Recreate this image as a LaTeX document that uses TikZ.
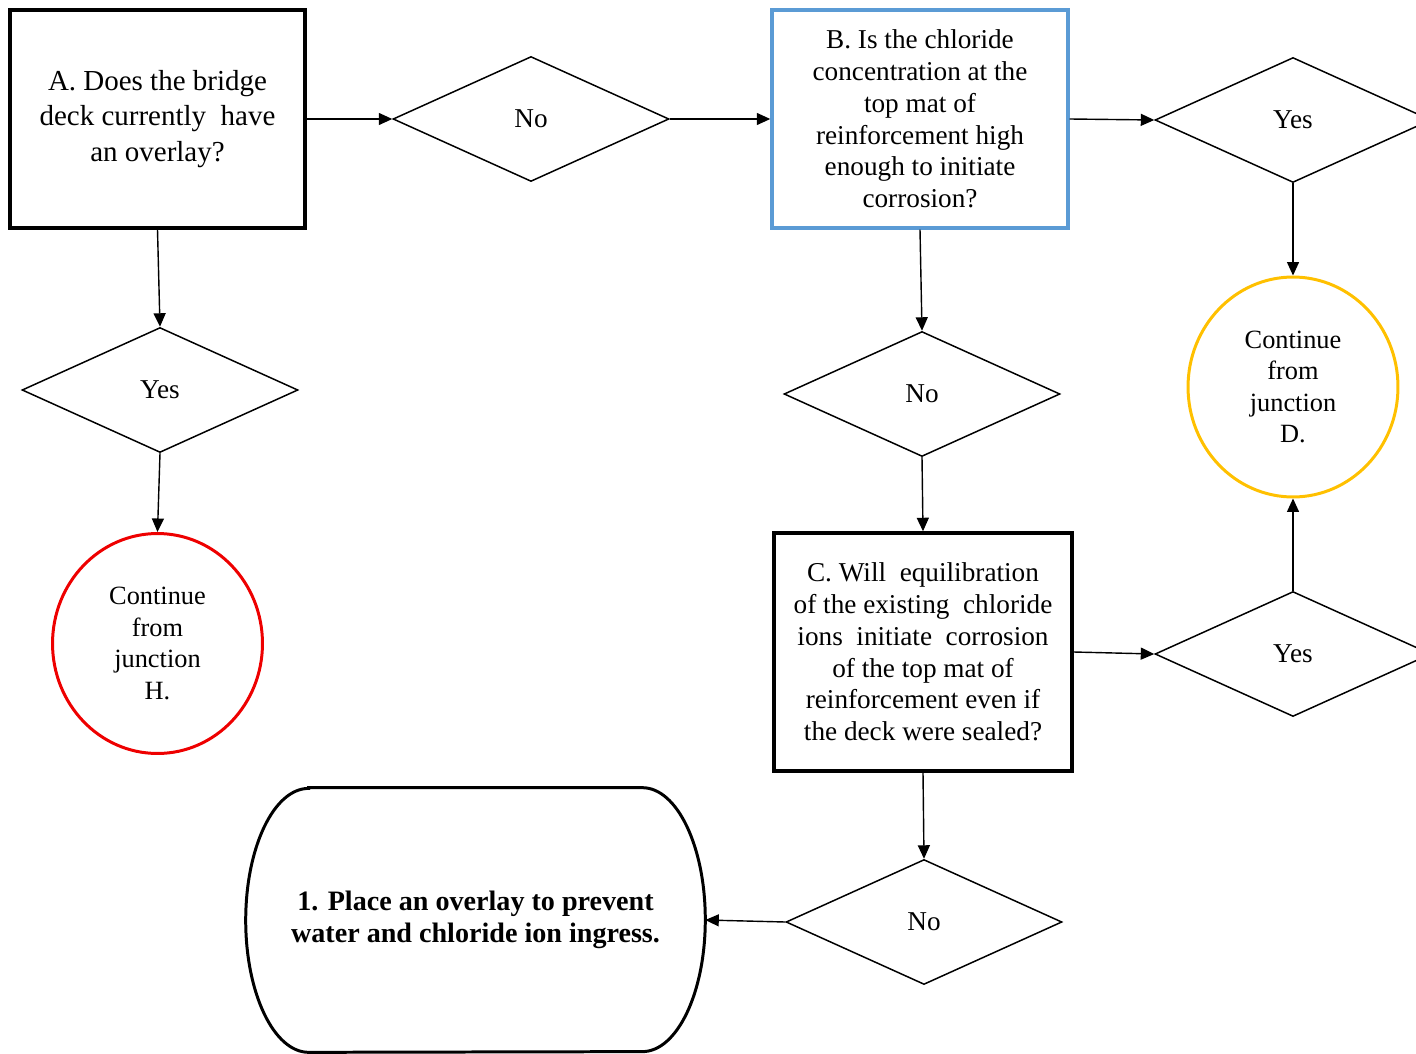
\documentclass[tikz,border=0pt]{standalone}
\usepackage{fontspec}
\setmainfont{Liberation Serif}
\usetikzlibrary{shapes.geometric,arrows.meta,calc}
\definecolor{questionblue}{RGB}{91,155,213}
\definecolor{junctiongold}{RGB}{255,192,0}
\definecolor{junctionred}{RGB}{238,0,0}
\tikzset{
  question/.style={
    draw,
    line width=2pt,
    align=center,
    inner sep=0,
    minimum width=5.9cm,
    minimum height=4.36cm,
    font=\fontsize{15.5}{18.1pt}\selectfont
  },
  decision/.style={
    shape=diamond,
    draw,
    line width=0.85pt,
    inner sep=0,
    minimum width=5.52cm,
    minimum height=2.5cm,
    font=\fontsize{15.5}{18pt}\selectfont
  },
  junction/.style={
    shape=ellipse,
    draw,
    line width=1.7pt,
    inner sep=0,
    align=center,
    minimum width=4.2cm,
    minimum height=4.4cm,
    font=\fontsize{15}{18pt}\selectfont
  },
  action/.style={
    align=center,
    inner sep=0,
    minimum width=9.18cm,
    minimum height=5.28cm,
    font=\bfseries\fontsize{16}{18.2pt}\selectfont
  },
  flow/.style={
    line width=0.8pt,
    -{Triangle[length=0.27cm,width=0.24cm]}
  }
}
\begin{document}
\begin{tikzpicture}[x=0.02cm,y=-0.02cm]
    \useasboundingbox (0,0) rectangle (1416,1054);
    \node[question,font=\fontsize{16.5}{20.3pt}\selectfont] (qa) at (157.5,119) {A. Does the bridge\\deck currently\ \ have\\an overlay?};
    \node[question,draw=questionblue,minimum width=5.92cm] (qb) at (920,119) {B. Is the chloride\\concentration at the\\top mat of\\reinforcement high\\enough to initiate\\corrosion?};
    \node[question,minimum width=5.96cm,minimum height=4.76cm] (qc) at (923,652) {C. Will\ \ equilibration\\of the existing\ \ chloride\\ions\ \ initiate\ \ corrosion\\of the top mat of\\reinforcement even if\\the deck were sealed?};
    \node[decision] (noa) at (531,119) {No};
    \node[decision] (nob) at (922,394) {No};
    \node[decision] (noc) at (924,922) {No};
    \node[decision] (yesa) at (160,390) {Yes};
    \node[decision] (yesb) at (1293,120) {Yes};
    \node[decision] (yesc) at (1293,654) {Yes};
    \node[junction,draw=junctionred] (jh) at (157.5,643.5) {Continue\\from\\junction\\H.};
    \node[junction,draw=junctiongold] (jd) at (1293,387) {Continue\\from\\junction\\D.};
    \node[action] (overlay) at (475.5,920) {1. Place an overlay to prevent\\water and chloride ion ingress.};
    \draw[line width=1.7pt] ($(overlay.north west)+(63,0)$) -- ($(overlay.north east)+(-63,0)$)
        arc[start angle=90,end angle=-90,x radius=1.26cm,y radius=2.64cm]
        -- ($(overlay.south west)+(63,0)$)
        arc[start angle=270,end angle=90,x radius=1.26cm,y radius=2.64cm] -- cycle;
    \draw[flow] (qa.east) -- (noa.west);
    \draw[flow] (noa.east) -- (qb.west);
    \draw[flow] (qb.east) -- (yesb.west);
    \draw[flow] (yesb.south) -- (jd.north);
    \draw[flow] (qa.south) -- (yesa.north);
    \draw[flow] (yesa.south) -- (jh.north);
    \draw[flow] (qb.south) -- (nob.north);
    \draw[flow] (nob.south) -- (qc.north);
    \draw[flow] (qc.east) -- (yesc.west);
    \draw[flow] (yesc.north) -- (jd.south);
    \draw[flow] (qc.south) -- (noc.north);
    \draw[flow] (noc.west) -- (overlay.east);
\end{tikzpicture}
\end{document}
